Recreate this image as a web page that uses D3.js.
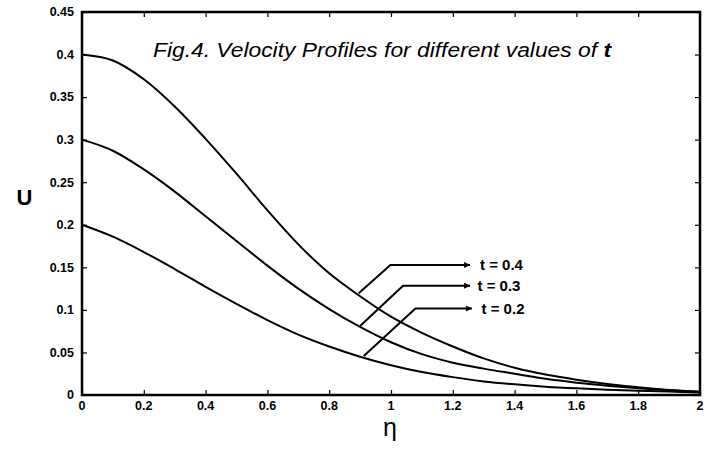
<!DOCTYPE html>
<html><head><meta charset="utf-8">
<script src="https://cdn.jsdelivr.net/npm/d3@7"></script>
<style>body{margin:0;background:#fff}svg{display:block}text{font-family:"Liberation Sans",Arial,sans-serif}</style>
</head><body>
<svg id="c" width="720" height="451"></svg>
<script>
const eta = [0,0.1,0.2,0.3,0.4,0.5,0.6,0.7,0.8,0.9,1.0,1.1,1.2,1.3,1.4,1.5,1.6,1.7,1.8,1.9,2.0];
const u_t04 = [0.400,0.393,0.371,0.339,0.301,0.260,0.217,0.177,0.143,0.116,0.092,0.073,0.057,0.043,0.032,0.024,0.018,0.013,0.009,0.006,0.004];
const u_t03 = [0.300,0.287,0.265,0.239,0.210,0.181,0.152,0.125,0.101,0.080,0.062,0.048,0.038,0.031,0.025,0.019,0.0145,0.011,0.008,0.0055,0.0035];
const u_t02 = [0.200,0.186,0.168,0.148,0.127,0.107,0.088,0.071,0.057,0.045,0.035,0.027,0.021,0.016,0.0125,0.0098,0.0078,0.0062,0.005,0.004,0.003];
const seriesLabels = ["t = 0.4","t = 0.3","t = 0.2"];
// annotation anchors in data units
const leaderStart = [[0.8955,0.1195],[0.900,0.081],[0.912,0.0458]];
const leaderKnee = [[0.998,0.1528],[1.039,0.1284],[1.079,0.1016]];
const leaderTip = [1.256,1.256,1.262];
const labelEta = [1.288,1.280,1.293];
const xTicks = [0,0.2,0.4,0.6,0.8,1,1.2,1.4,1.6,1.8,2];
const yTicks = [0,0.05,0.1,0.15,0.2,0.25,0.3,0.35,0.4,0.45];
const titleMain = "Fig.4. Velocity Profiles for different values of ";
const titleVar = "t";

const svg = d3.select("#c");
const L=82,R=700,T=12,B=395;
const x = d3.scaleLinear().domain([0,2]).range([L,R]);
const y = d3.scaleLinear().domain([0,0.45]).range([B,T]);

svg.append("defs").append("marker").attr("id","ah").attr("viewBox","0 0 10 10")
  .attr("refX",10).attr("refY",5).attr("markerWidth",9).attr("markerHeight",6)
  .attr("markerUnits","userSpaceOnUse").attr("orient","auto")
  .append("path").attr("d","M0,0L10,5L0,10Z").attr("fill","#000");

// ticks (inward) on all four sides
const xb = d3.axisBottom(x).tickValues(xTicks).tickSize(-5).tickFormat("");
const xt = d3.axisTop(x).tickValues(xTicks).tickSize(-5).tickFormat("");
const yl = d3.axisLeft(y).tickValues(yTicks).tickSize(-5).tickFormat("");
const yr = d3.axisRight(y).tickValues(yTicks).tickSize(-5).tickFormat("");
[[xb,`translate(0,${B})`],[xt,`translate(0,${T})`],[yl,`translate(${L},0)`],[yr,`translate(${R},0)`]].forEach(([a,t])=>{
  const g=svg.append("g").attr("transform",t).call(a);
  g.select(".domain").remove();
  g.selectAll("line").attr("stroke","#000").attr("stroke-width",1.2);
});

// tick labels
const fmt = d=>String(+d.toFixed(2));
svg.append("g").selectAll("text").data(xTicks).join("text")
  .attr("x",d=>x(d)).attr("y",B+15).attr("text-anchor","middle")
  .attr("font-size",12.5).attr("font-weight","bold").text(fmt);
svg.append("g").selectAll("text").data(yTicks).join("text")
  .attr("x",L-8).attr("y",d=>y(d)).attr("dy","0.35em").attr("text-anchor","end")
  .attr("font-size",12.5).attr("font-weight","bold").text(fmt);

// frame
svg.append("rect").attr("x",L).attr("y",T).attr("width",R-L).attr("height",B-T)
  .attr("fill","none").attr("stroke","#000").attr("stroke-width",2.5);

// curves
const line = d3.line().x(d=>x(d[0])).y(d=>y(d[1])).curve(d3.curveCatmullRom.alpha(0.5));
[u_t04,u_t03,u_t02].forEach(s=>{
  svg.append("path").datum(eta.map((e,i)=>[e,s[i]])).attr("d",line)
    .attr("fill","none").attr("stroke","#000").attr("stroke-width",2);
});

// leaders + labels
seriesLabels.forEach((lab,i)=>{
  const pts=[leaderStart[i],leaderKnee[i],[leaderTip[i],leaderKnee[i][1]]];
  svg.append("path").attr("d",d3.line().x(d=>x(d[0])).y(d=>y(d[1]))(pts))
    .attr("fill","none").attr("stroke","#000").attr("stroke-width",2).attr("marker-end","url(#ah)");
  svg.append("text").attr("x",x(labelEta[i])).attr("y",y(leaderKnee[i][1])).attr("dy","0.36em")
    .attr("font-size",15).attr("font-weight","bold").text(lab);
});

// title
const tt = svg.append("text").attr("x",153).attr("y",57).attr("font-size",20)
  .attr("font-style","italic").attr("textLength",458).attr("lengthAdjust","spacingAndGlyphs");
tt.append("tspan").text(titleMain);
tt.append("tspan").attr("font-weight","bold").text(titleVar);

// axis titles
svg.append("text").attr("x",24.5).attr("y",205).attr("text-anchor","middle")
  .attr("font-size",22).attr("font-weight","bold").text("U");
svg.append("text").attr("x",390).attr("y",436).attr("text-anchor","middle")
  .attr("font-size",25).text("η");
</script>
</body></html>
